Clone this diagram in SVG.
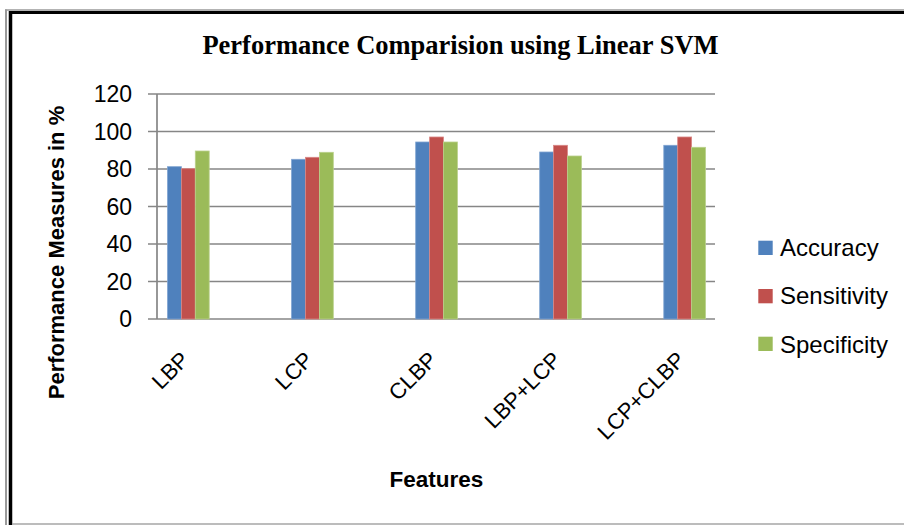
<svg xmlns="http://www.w3.org/2000/svg" width="904" height="525" viewBox="0 0 904 525">
<style>
.grid{stroke:#868686;stroke-width:1.7;fill:none}
.tick{font-family:"Liberation Sans",Arial,sans-serif;font-size:23px;fill:#000;text-anchor:end}
.cat{font-family:"Liberation Sans",Arial,sans-serif;font-size:22px;fill:#000;text-anchor:end}
.leg{font-family:"Liberation Sans",Arial,sans-serif;font-size:24px;fill:#000}
.acc{fill:#4F81BD;stroke:#7FA3D1;stroke-width:0.8}
.sen{fill:#C0504D;stroke:#D98785;stroke-width:0.8}
.spe{fill:#9BBB59;stroke:#B9D08A;stroke-width:0.8}
</style>
<rect width="904" height="525" fill="#fff"/>
<g id="frame">
<line x1="6" y1="9.5" x2="6" y2="525" stroke="#9a9a9a" stroke-width="2"/>
<line x1="5" y1="10" x2="904" y2="10" stroke="#9a9a9a" stroke-width="1.5"/>
<line x1="10.5" y1="11" x2="10.5" y2="525" stroke="#000" stroke-width="3.5"/>
<line x1="9" y1="12.5" x2="904" y2="12.5" stroke="#000" stroke-width="3.2"/>
<line x1="12" y1="524" x2="904" y2="524" stroke="#a6a6a6" stroke-width="1.6"/>
</g>
<text id="title" x="460.5" y="54" font-family="'Liberation Serif','Times New Roman',serif" font-weight="bold" font-size="26.5" text-anchor="middle">Performance Comparision using Linear SVM</text>
<g id="axes">
<path class="grid" d="M148 94H715M148 131.5H715M148 169H715M148 206.5H715M148 244H715M148 281.5H715M148 319H715M157 94V319"/>
<text class="tick" x="132" y="102.3">120</text>
<text class="tick" x="132" y="139.8">100</text>
<text class="tick" x="132" y="177.3">80</text>
<text class="tick" x="132" y="214.8">60</text>
<text class="tick" x="132" y="252.3">40</text>
<text class="tick" x="132" y="289.8">20</text>
<text class="tick" x="132" y="327.3">0</text>
</g>
<g id="bars">
<rect class="acc" x="167.5" y="166.7" width="13.9" height="152.3"/>
<rect class="sen" x="181.4" y="168.7" width="13.9" height="150.3"/>
<rect class="spe" x="195.3" y="151" width="13.9" height="168"/>
<rect class="acc" x="291.6" y="159.3" width="13.9" height="159.7"/>
<rect class="sen" x="305.5" y="157.3" width="13.9" height="161.7"/>
<rect class="spe" x="319.4" y="152.3" width="13.9" height="166.7"/>
<rect class="acc" x="415.7" y="142" width="13.9" height="177"/>
<rect class="sen" x="429.6" y="137" width="13.9" height="182"/>
<rect class="spe" x="443.5" y="142" width="13.9" height="177"/>
<rect class="acc" x="539.7" y="152" width="13.9" height="167"/>
<rect class="sen" x="553.6" y="145.3" width="13.9" height="173.7"/>
<rect class="spe" x="567.5" y="156" width="13.9" height="163"/>
<rect class="acc" x="663.8" y="145.3" width="13.9" height="173.7"/>
<rect class="sen" x="677.7" y="137" width="13.9" height="182"/>
<rect class="spe" x="691.6" y="147.3" width="13.9" height="171.7"/>
</g>
<g id="categories">
<text class="cat" transform="translate(190.5,361) rotate(-45)">LBP</text>
<text class="cat" transform="translate(314.5,361) rotate(-45)">LCP</text>
<text class="cat" transform="translate(438.5,361) rotate(-45)">CLBP</text>
<text class="cat" transform="translate(562.5,361) rotate(-45)">LBP+LCP</text>
<text class="cat" transform="translate(686.5,361) rotate(-45)">LCP+CLBP</text>
</g>
<text id="ytitle" transform="translate(64,252.5) rotate(-90)" font-family="'Liberation Sans',Arial,sans-serif" font-weight="bold" font-size="22" text-anchor="middle">Performance Measures in %</text>
<text id="xtitle" x="436.3" y="487" font-family="'Liberation Sans',Arial,sans-serif" font-weight="bold" font-size="22.5" text-anchor="middle">Features</text>
<g id="legend">
<rect x="758.3" y="240.7" width="14.4" height="14.3" fill="#4F81BD"/>
<text class="leg" x="780" y="256">Accuracy</text>
<rect x="758.3" y="289" width="14.4" height="14.3" fill="#C0504D"/>
<text class="leg" x="780" y="304.3">Sensitivity</text>
<rect x="758.3" y="336.7" width="14.4" height="14.3" fill="#9BBB59"/>
<text class="leg" x="780" y="352.5">Specificity</text>
</g>
</svg>
